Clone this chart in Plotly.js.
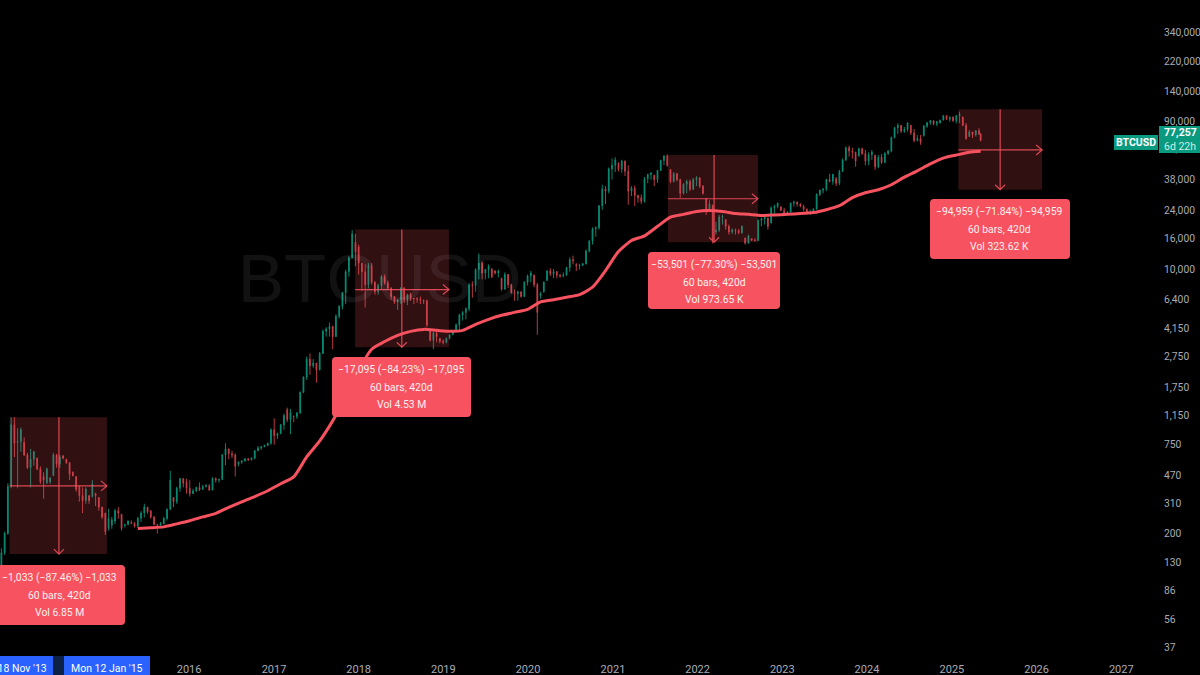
<!DOCTYPE html>
<html><head><meta charset="utf-8">
<script src="https://cdn.plot.ly/plotly-3.0.1.min.js"></script>
<style>html,body{margin:0;padding:0;background:#000;overflow:hidden}#chart{width:1200px;height:675px}</style>
</head><body><div id="chart"></div>
<script>
const firstBarDate = '2013-10-14';
const lastBarDate = '2025-05-05';
const opens = [118,150,200,400,1000,770,780,770,640,530,
600,610,520,465,425,430,470,640,560,630,
600,570,495,465,400,350,325,350,345,360,
340,295,270,215,225,240,280,265,225,228,
235,232,222,250,270,295,280,255,228,225,
230,250,285,340,320,390,450,430,390,360,
375,395,385,400,405,380,450,440,445,640,
700,650,640,560,575,585,605,595,610,680,
710,720,735,760,930,850,880,1000,1250,1080,
1130,1130,1190,1620,2030,2650,2400,2500,2260,2880,
4000,4150,4300,3700,5000,5800,7100,9700,11900,15000,
14000,11000,9700,8000,10500,8300,7200,7900,9000,8200,
7600,6700,6200,6400,7600,6400,6900,6500,6500,6450,
6350,6300,4100,3500,3900,3600,3450,3400,3600,3820,
4000,4400,5100,5300,5600,8000,7900,10000,11000,9500,
10000,10100,9800,9500,8800,7500,9300,8000,7100,7000,
7200,6700,8300,9100,9200,8000,6800,7200,8500,9800,
9400,9700,9200,9100,9200,10300,11600,10800,10600,10700,
10900,13200,15300,18300,18600,25800,33000,32000,44500,47000,
48500,44500,50000,43000,32000,33500,30000,29000,27500,38500,
41000,40500,38000,43500,50500,54000,44000,37000,41500,38000,
31000,35500,37000,33000,38000,39000,34500,28500,24500,26000,
17500,18000,21800,21000,19000,17500,18000,17800,17300,16000,
14800,15800,15500,15400,20800,21300,21500,20000,25000,25500,
25400,24000,23000,23500,26800,27200,26500,25500,24500,23000,
23500,24600,30500,32500,33000,38000,37000,38500,36000,43000,
51000,61000,58000,57000,54000,60000,56000,50000,55000,54500,
46000,53000,49000,56000,58000,71000,82000,85000,78000,80000,
85000,76000,68000,70000,73000,84000,88500,91000,87000,88000,
92000,98000,93000,96000,91000,98000,96000,85000,72000,77000,
74000,78500,75000];
const highs = [160,205,420,1120,1120,950,960,830,660,700,
680,615,540,495,530,460,660,650,640,640,
605,575,500,465,405,395,395,350,440,365,
340,295,270,288,255,288,295,267,230,242,
242,236,255,278,310,295,280,258,230,236,
255,290,505,340,400,455,455,449,440,387,
400,425,410,416,416,460,458,450,650,760,
700,680,655,580,590,610,610,615,690,730,
730,745,770,950,1100,890,1012,1180,1290,1265,
1150,1210,1640,2050,2750,2880,2650,2500,2950,4120,
4250,4560,4350,5150,5900,7200,10000,12200,18000,17000,
14500,11000,10800,11000,11000,8400,8100,9200,9300,8500,
7700,6700,6450,7700,7700,7000,7100,6550,6650,6700,
6400,6400,4150,4000,4100,3620,3550,3650,3850,4030,
4500,5200,5400,5700,8200,8400,10200,12700,11300,10100,
10800,10200,9900,10000,8850,9600,9350,8100,7440,7300,
7200,8400,9300,9800,9300,8200,7200,8400,9900,10200,
10100,9800,9350,9600,10400,12000,12300,11000,10900,11000,
13450,15500,18700,19000,26000,35200,34500,45500,52000,53000,
49000,51000,50500,47000,34500,34800,30400,30500,39500,41500,
42300,40800,44000,51000,54700,55500,44500,42500,42000,38500,
36000,38000,38000,39000,40000,39500,35000,29000,28000,26200,
20300,22500,22600,21000,19500,18400,18400,18300,19200,16000,
16800,15900,15900,21000,21600,22300,21600,25500,26200,27000,
25500,25000,23800,27000,27800,27500,26700,26200,24800,24300,
24800,31000,32700,33500,38500,41500,41500,39500,44000,52000,
62000,63000,61000,57500,61000,61000,59000,57000,59000,55000,
54700,55500,57000,59000,72000,83000,87500,85500,83000,89000,
85500,80500,73700,73700,85500,89500,92000,91500,90500,92500,
99000,99000,97000,97000,99000,104000,97000,88000,79400,77500,
79000,81500,75500];
const lows = [115,145,195,390,620,390,670,630,520,395,
545,510,416,334,415,416,470,530,530,600,
560,440,465,370,320,270,310,310,340,300,
280,248,195,208,214,230,248,208,218,225,
230,218,218,236,253,267,248,225,199,225,
230,242,285,295,310,370,395,360,345,359,
370,375,380,395,375,380,425,425,440,550,
600,610,465,540,560,580,585,590,600,680,
690,720,730,745,745,810,870,930,1040,870,
1040,1090,1180,1600,1950,2100,2330,1870,2250,2880,
3700,3700,3070,3700,4850,5540,6000,9000,11900,10500,
9300,7300,5700,7600,8000,6900,6900,7400,8000,7400,
6400,6000,5500,6000,6100,5900,6300,6000,6100,6000,
6000,4250,3450,3070,3400,3350,3300,3350,3550,3780,
3950,3950,4700,4780,5400,6600,7200,8650,8650,8650,
8800,8800,9300,8900,7300,7400,7600,7000,6300,6300,
6600,6700,7900,8300,7700,3800,6500,7100,8500,9100,
8800,8800,8850,8900,9200,9700,10800,9800,10000,10500,
10800,12900,14500,16300,18100,24300,26500,31000,38000,42500,
43000,42000,40000,26200,29800,25700,27000,26500,27000,36000,
37900,34500,36200,43500,47000,46000,36000,36500,37000,29000,
30500,31000,32000,32500,34500,33500,30400,22500,24000,14700,
16800,17500,19500,18100,16800,17000,16800,16900,17000,14500,
14700,15300,15200,15400,19000,19500,18100,19800,22800,24800,
23800,22600,22600,23300,25500,25500,25200,23800,22600,22600,
23000,24300,29800,31000,32000,36500,35200,34500,35000,42500,
50000,53500,52000,46000,53500,54700,47000,47000,50900,43900,
45000,48000,48500,54700,57000,70000,75000,76000,76000,77500,
73700,66000,67000,63700,72000,82000,85500,85000,84000,87500,
91500,92000,89500,89500,87500,88000,84000,68500,72000,70500,
72000,73500,67000];
const closes = [150,200,400,1000,760,780,930,640,530,600,
670,520,430,440,520,455,640,560,620,610,
570,480,470,385,350,325,385,325,415,350,
295,255,205,250,245,280,270,215,228,240,
232,222,250,270,295,275,255,228,225,232,
250,285,440,320,390,450,420,390,360,375,
395,380,400,405,380,450,440,445,640,700,
650,640,540,575,585,605,595,610,680,710,
720,735,760,930,850,880,1000,1150,1080,1200,
1130,1190,1620,2030,2650,2400,2500,2260,2880,4000,
4150,4300,3700,5000,5800,7100,9700,11900,17000,13000,
11000,9700,8000,10500,8300,7200,7900,9000,8200,7600,
6700,6200,6400,7600,6400,6900,6500,6500,6450,6350,
6300,4400,3500,3900,3700,3450,3400,3600,3820,4000,
4400,5100,5300,5600,8000,7900,10000,11000,9500,10000,
10500,9000,9500,9800,7500,9300,8000,7100,7000,7200,
6700,8300,9100,9500,8000,5300,7000,8300,9800,9400,
9700,9200,9100,9200,10300,11600,11400,10600,10700,10900,
13200,15300,18300,18600,25800,33000,32000,44500,47000,51000,
44500,50000,43000,32000,33500,30000,29000,27500,38500,41000,
42000,38000,43500,50500,54000,47000,37000,41500,38000,31000,
35500,37000,33000,38000,39000,34500,31000,24000,26500,15500,
18000,21800,22000,19000,17500,18000,17800,17300,19000,14800,
16500,15500,15400,20800,21300,22000,19000,25000,25500,26800,
24000,23000,23500,26800,27200,26500,25500,24500,23000,23500,
24600,30500,32500,33000,38000,37000,41000,36000,43000,51000,
61000,58000,57000,50000,60000,56000,50000,55000,57000,46000,
53000,49000,56000,58000,71000,82000,85000,78000,80000,88000,
76000,68000,70000,66000,84000,88500,91000,87000,90000,91500,
98000,93000,96000,91000,98000,100000,85000,70000,77000,74000,
78500,75000,68000];
// long moving average, read every fourth bar from bar 42 on
const maValues = [215,217,220,230,241,255,269,294,319,345,
376,417,462,621,787,1060,1500,2245,3070,3440,
3770,4000,4120,4060,4000,4060,4430,4780,5080,5300,
5540,6200,6400,6630,6900,7700,9850,13100,15400,16500,
19000,21800,22700,23700,24000,23700,23000,22700,22300,22500,
22700,23000,23300,24300,25800,29100,31300,32700,35200,39400,
43300,48000,52300,54700,57000,57800];
const yTicks = [340000,220000,140000,90000,60000,38000,24000,16000,10000,6400,4150,2750,1750,1150,750,470,310,200,130,86,56,37];
const yTickText = ['340,000','220,000','140,000','90,000','60,000','38,000','24,000','16,000','10,000','6,400','4,150','2,750','1,750','1,150','750','470','310','200','130','86','56','37'];
const yearTicks = ['2016-01-01','2017-01-01','2018-01-01','2019-01-01','2020-01-01','2021-01-01','2022-01-01','2023-01-01','2024-01-01','2025-01-01','2026-01-01','2027-01-01'];
const yearText = ['2016','2017','2018','2019','2020','2021','2022','2023','2024','2025','2026','2027'];
const boxStart = ['2013-11-18','2017-12-17','2021-08-26','2025-01-29'];
const boxEnd = ['2015-01-12','2019-01-25','2022-09-18','2026-01-25'];
const boxMidDate = ['2014-06-19','2018-07-06','2022-03-13','2025-07-28'];
const boxTop = [1120,18100,54700,108000];
const boxBottom = [147,3160,15000,32700];
const boxMidValue = [404,7440,28600,59000];
const labelLine1 = ['−1,033 (−87.46%) −1,033','−17,095 (−84.23%) −17,095','−53,501 (−77.30%) −53,501','−94,959 (−71.84%) −94,959'];
const labelLine2 = ['60 bars, 420d','60 bars, 420d','60 bars, 420d','60 bars, 420d'];
const labelLine3 = ['Vol 6.85 M','Vol 4.53 M','Vol 973.65 K','Vol 323.62 K'];
const labelRects = [[-6,565,125,625],[332,357,471,417],[648,252,780,309],[930,199,1070,259]];

if (new Set([opens.length,highs.length,lows.length,closes.length]).size!==1) throw new Error('len '+[opens.length,highs.length,lows.length,closes.length]);

const W=1200,H=675,PW=1160,PH=655;
const px=x=>x/PW, py=y=>1-y/PH;
const dates=opens.map((_,i)=>new Date(Date.parse(firstBarDate)+i*14*864e5).toISOString().slice(0,10));
dates[dates.length-1]=lastBarDate;
const maDates=maValues.map((_,k)=>dates[42+4*k]);
const RED='#f7525f', CROSS='rgba(247,82,95,0.85)', GREEN='#0a8f77', CANDLE_RED='#c93f4a';

function roundRect(x0,y0,x1,y1,r){
  const X=px,Y=py;
  return `M${X(x0+r)},${Y(y0)} L${X(x1-r)},${Y(y0)} Q${X(x1)},${Y(y0)} ${X(x1)},${Y(y0+r)} L${X(x1)},${Y(y1-r)} Q${X(x1)},${Y(y1)} ${X(x1-r)},${Y(y1)} L${X(x0+r)},${Y(y1)} Q${X(x0)},${Y(y1)} ${X(x0)},${Y(y1-r)} L${X(x0)},${Y(y0+r)} Q${X(x0)},${Y(y0)} ${X(x0+r)},${Y(y0)} Z`;
}
const pr=(x0,y0,x1,y1,fill)=>({type:'rect',xref:'paper',yref:'paper',x0:px(x0),x1:px(x1),y0:py(y0),y1:py(y1),fillcolor:fill,line:{width:0},layer:'above'});
const note=(x,y,text,font)=>({xref:'paper',yref:'paper',x:px(x),y:py(y),text,showarrow:false,xanchor:'center',yanchor:'middle',font});

const shapes=[],annotations=[];
boxStart.forEach((s,i)=>{
  shapes.push({type:'rect',xref:'x',yref:'y',x0:s,x1:boxEnd[i],y0:boxBottom[i],y1:boxTop[i],fillcolor:'rgba(245,80,90,0.2)',line:{width:0},layer:'above'});
  shapes.push({type:'line',xref:'x',yref:'y',x0:s,x1:boxEnd[i],y0:boxMidValue[i],y1:boxMidValue[i],line:{color:CROSS,width:1.2},layer:'above'});
  shapes.push({type:'line',xref:'x',yref:'y',x0:boxMidDate[i],x1:boxMidDate[i],y0:boxBottom[i],y1:boxTop[i],line:{color:CROSS,width:1.2},layer:'above'});
  shapes.push({type:'path',xref:'x',yref:'y',xsizemode:'pixel',ysizemode:'pixel',xanchor:boxEnd[i],yanchor:boxMidValue[i],path:'M-6,5 L0,0 L-6,-5',line:{color:CROSS,width:1.2},layer:'above'});
  shapes.push({type:'path',xref:'x',yref:'y',xsizemode:'pixel',ysizemode:'pixel',xanchor:boxMidDate[i],yanchor:boxBottom[i],path:'M-5,5 L0,0 L5,5',line:{color:CROSS,width:1.2},layer:'above'});
  const r=labelRects[i];
  shapes.push({type:'path',xref:'paper',yref:'paper',path:roundRect(r[0],r[1],r[2],r[3],4),fillcolor:RED,line:{width:0},layer:'above'});
  [labelLine1[i],labelLine2[i],labelLine3[i]].forEach((t,k)=>{
    annotations.push(note((r[0]+r[2])/2,r[1]+12.5+k*17.5,t,{family:'Roboto',size:10.4,color:'#fff0f0'}));
  });
});
// time-scale date tags
shapes.push(pr(53,656,64,675,'#0d2146'));
shapes.push(pr(-2,656,53,675,'#2962ff'));
shapes.push(pr(64,656,150,675,'#2962ff'));
annotations.push(note(10,668,"Mon 18 Nov '13",{family:'Roboto',size:10.5,color:'#fff'}));
annotations.push(note(107,668,"Mon 12 Jan '15",{family:'Roboto',size:10.5,color:'#fff'}));
// price badges
shapes.push(pr(1114,135,1158,150,'#0a9a80'));
shapes.push(pr(1159,126,1200,153,'#0a9a80'));
annotations.push(note(1136,142.5,'BTCUSD',{family:'Roboto',size:10.5,color:'#fff',weight:700}));
annotations.push(note(1180,132.5,'77,257',{family:'Roboto',size:10.5,color:'#fff',weight:700}));
annotations.push(note(1180,146.5,'6d 22h',{family:'Roboto',size:10.5,color:'#c8efe6'}));
// symbol watermark
annotations.push(note(380,278,'BTCUSD',{family:'Liberation Sans',size:69,color:'rgba(255,255,255,0.07)'}));

const traces=[{
  type:'candlestick',x:dates,open:opens,high:highs,low:lows,close:closes,
  increasing:{line:{color:GREEN,width:0.9},fillcolor:GREEN},
  decreasing:{line:{color:CANDLE_RED,width:0.9},fillcolor:CANDLE_RED},
  hoverinfo:'skip',showlegend:false
},{
  type:'scatter',mode:'lines',x:maDates,y:maValues,line:{color:RED,width:3,shape:'spline',smoothing:0.6},hoverinfo:'skip',showlegend:false
}];
const layout={
  width:W,height:H,paper_bgcolor:'#000',plot_bgcolor:'#000',showlegend:false,
  margin:{l:0,r:W-PW,t:0,b:H-PH,pad:0},
  font:{family:'Roboto',color:'#b2b5be'},
  xaxis:{type:'date',range:['2013-10-08','2027-06-17'],rangeslider:{visible:false},tickmode:'array',tickvals:yearTicks,ticktext:yearText,
    tickfont:{family:'Roboto',size:11,color:'#a9acb4'},ticklabelstandoff:6,showgrid:false,zeroline:false,showline:false,ticks:'',automargin:false},
  yaxis:{type:'log',side:'right',range:[1.517,5.737],tickmode:'array',tickvals:yTicks,ticktext:yTickText,
    tickfont:{family:'Roboto',size:10.3,color:'#a9acb4'},ticklabelstandoff:3,showgrid:false,zeroline:false,showline:false,ticks:'',automargin:false},
  shapes,annotations
};
Plotly.newPlot('chart',traces,layout,{displayModeBar:false,staticPlot:true});
</script></body></html>
